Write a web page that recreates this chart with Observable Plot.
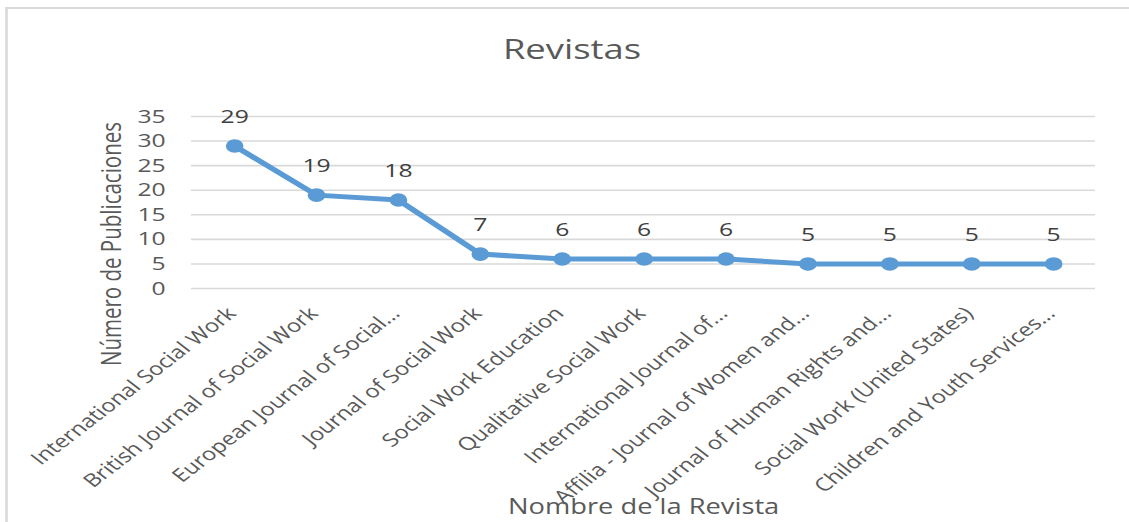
<!DOCTYPE html>
<html><head><meta charset="utf-8">
<script src="https://cdn.jsdelivr.net/npm/d3@7"></script>
<script src="https://cdn.jsdelivr.net/npm/@observablehq/plot@0.6"></script>
<style>
body{margin:0;background:#fff;overflow:hidden}
#wrap{position:relative;width:868.5px;height:522px;transform:scaleX(1.3);transform-origin:0 0;font-family:"Open Sans",sans-serif}
#frame{position:absolute;left:4.2px;top:7px;right:-10px;bottom:-10px;border-top:2px solid #d9d9d9;border-left:2.3px solid #d9d9d9}
#title{position:relative;height:80px}
#title span{position:absolute;left:440px;top:48px;transform:translate(-50%,-50%);font-size:28px;color:#595959;white-space:nowrap}
#ylab{position:absolute;left:84.5px;top:244px;transform:translate(-50%,-50%) rotate(-90deg);font-size:20.5px;color:#595959;white-space:nowrap;line-height:1}
#chart{position:relative}
</style></head><body>
<div id="wrap"><div id="frame"></div><div id="title"><span></span></div><div id="ylab"></div><div id="chart"></div></div>
<script>
const journals = [
  "International Social Work",
  "British Journal of Social Work",
  "European Journal of Social...",
  "Journal of Social Work",
  "Social Work Education",
  "Qualitative Social Work",
  "International Journal of...",
  "Affilia - Journal of Women and...",
  "Journal of Human Rights and...",
  "Social Work (United States)",
  "Children and Youth Services..."
];
const counts = [29, 19, 18, 7, 6, 6, 6, 5, 5, 5, 5];
const yTicks = [0, 5, 10, 15, 20, 25, 30, 35];
const titleText = "Revistas";
const yLabel = "Número de Publicaciones";
const xLabel = "Nombre de la Revista";

const data = journals.map((name, i) => ({name, value: counts[i]}));
const chart = Plot.plot({
  width: 868.5, height: 442,
  marginTop: 36, marginBottom: 234, marginLeft: 146.9, marginRight: 26.2,
  style: {fontFamily: '"Open Sans", sans-serif', fontSize: "19px", color: "#595959", background: "transparent", overflow: "visible"},
  x: {type: "point", domain: journals, padding: 0.5, label: null},
  y: {domain: [0, 35], label: null},
  marks: [
    Plot.ruleY(yTicks, {stroke: "#d9d9d9", strokeWidth: 1.6}),
    Plot.axisY({ticks: yTicks, tickSize: 0, tickPadding: 20, label: null, fontSize: 19}),
    Plot.axisX({tickRotate: -45, tickSize: 0, tickPadding: 22, dx: -2, label: null, fontSize: 18.3}),
    Plot.line(data, {x: "name", y: "value", stroke: "#5B9BD5", strokeWidth: 5}),
    Plot.dot(data, {x: "name", y: "value", r: 6.8, fill: "#5B9BD5"}),
    Plot.text(data, {x: "name", y: "value", text: d => String(d.value), dy: -29, fill: "#404040", fontSize: 19}),
    Plot.text([xLabel], {text: d => d, frameAnchor: "bottom", dy: 225, fontSize: 21})
  ]
});
document.querySelector("#title span").textContent = titleText;
document.getElementById("ylab").textContent = yLabel;
document.getElementById("chart").appendChild(chart);
</script>
</body></html>
